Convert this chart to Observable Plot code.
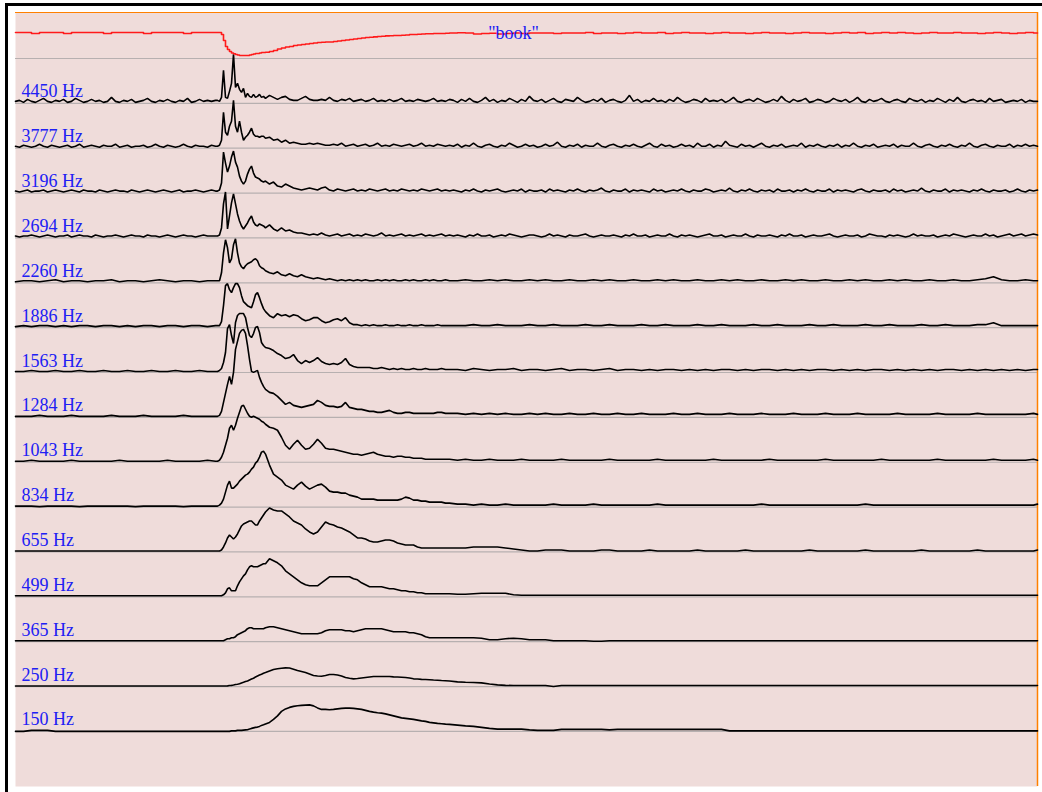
<!DOCTYPE html>
<html>
<head>
<meta charset="utf-8">
<title>"book" – auditory channel envelopes</title>
<script src="https://cdn.jsdelivr.net/npm/d3@7"></script>
<script src="https://cdn.jsdelivr.net/npm/@observablehq/plot@0.6"></script>
<style>
  html, body { margin: 0; padding: 0; background: #fff; }
  #chart { position: relative; width: 1042px; height: 792px; overflow: hidden; }
  #chart::before { content: ""; position: absolute; left: 5px; top: 3px; width: 2000px; height: 2000px;
    border-left: 3px solid #000; border-top: 3px solid #000; pointer-events: none; }
  #chart svg { display: block; }
</style>
</head>
<body>
<div id="chart"></div>
<script>
// Sample times (ms). Smooth bands: coarse before the onset, fine around it, coarse in the tail.
const timeMs = [
  ...d3.range(0, 201, 8),
  ...d3.range(202, 251, 2),
  ...d3.range(254, 435, 4),
  ...d3.range(442, 1019, 8),
  1022
];
// Noisy high bands are sampled more densely outside the onset.
const timeFineMs = [
  ...d3.range(0, 201, 4),
  ...d3.range(202, 251, 2),
  ...d3.range(254, 435, 4),
  ...d3.range(438, 1019, 4),
  1022
];

// Overall level of the word (red trace, top row)
const bookLevel = [
  26,26,25,26,26,26,25,26,26,26, 26,25,26,26,26,26,25,26,26,26, 26,25,26,26,26,26,
  26,26,24,18,12,9,7,5.5,4.7,4, 3.5,3,3,3,3,3,3.5,4,4.5,5, 5,5.5,6,6,6.3,
  7,8,9.5,10.5,11.5,12,13,13.5,14,14.5, 15,15.5,16,16.3,16.5,16.5,17,17.5,18,18.5,
  19,19.5,20,20.5,21,21.3,21.6,22,22.3,22.6, 22.8,23,23,23.2,23.5,24,24,24.3,24.5,24.7,
  24.7,25,25,25,25.3,25.5,
  25.7,25.5,24.5,25,25.3,24.5,25,25.5,25,25.5, 25.5,25.5,25,25.5,25.5,25.5,26,25,25.5,25.5,
  25,25.5,26,25.5,25.5,26,25,25.5,26,25.5, 25.5,25,25.5,26,25.5,25.5,25,25.5,26,25.5,
  25.5,25,25.5,26,25.5,25.5,25,25.5,26,25.5, 26,25,25.5,26,25.5,26,25.5,25,25.5,26,
  25.5,25.5,26,25.5,25.5,25,25.5,26,25.5,25, 25.5,26,25.5,25.5
];
const wordLabel = "\"book\"";

const channelLabels = ["4450 Hz", "3777 Hz", "3196 Hz", "2694 Hz", "2260 Hz", "1886 Hz", "1563 Hz",
  "1284 Hz", "1043 Hz", "834 Hz", "655 Hz", "499 Hz", "365 Hz", "250 Hz", "150 Hz"];

// Channel envelopes, one array per band (high bands on timeFineMs, the rest on timeMs)
const hz4450 = [
  2,3,1,4,2,1,3,5,2,1, 3,2,4,1,2,5,3,1,2,4, 2,3,1,2,6,2,1,3,2,4, 1,2,3,5,2,1,3,2,4,2, 1,3,2,5,1,2,4,2,3,2, 3,
  3,2,6,33,6,5,12,20,49,16, 20,14,11,15,6,10,7,6,9,6, 7,9,6,7,5,
  8,6,4,6,7,4,3,3,5,7, 4,3,3,4,3,6,3,2,4,3, 5,2,3,4,2,3,5,2,3,2, 4,2,3,5,2,3,2,4,3,2, 3,5,2,3,2,4,
  3,1,4,2,5,2,1,3,6,2, 4,1,3,2,5,3,1,4,2,7, 3,2,4,1,3,5,2,1,4,3, 2,6,3,1,2,4,2,5,1,3,
  4,2,1,3,8,2,4,1,3,2, 5,2,3,1,4,2,6,3,1,2, 4,3,1,5,2,3,2,4,1,3, 6,2,1,3,4,2,5,3,1,2,
  4,2,7,3,1,4,2,3,5,1, 2,4,3,1,2,5,3,2,4,1, 3,6,2,1,4,2,3,5,2,1, 3,4,2,1,5,3,2,4,1,3,
  2,5,3,1,4,2,6,2,1,3, 4,2,3,1,5,2,3,4,1,2, 3,2,4,1,3,2,2
];
const hz3777 = [
  2,1,3,2,1,2,4,2,1,3, 2,1,2,3,1,2,4,1,2,3, 2,1,3,2,2,4,1,2,3,1, 2,2,3,1,2,4,2,1,3,2, 1,2,4,2,1,3,2,2,1,3, 2,
  2,3,8,36,16,13,22,27,48,22, 16,27,16,8,11,13,16,20,14,12, 12,11,12,12,10,
  11,8,9,6,8,5,6,5,4,4, 5,4,5,4,3,3,4,3,5,2, 3,4,2,3,4,2,3,5,2,3, 2,4,3,2,3,4,2,3,5,2, 3,2,4,3,2,3,
  2,4,1,3,2,5,2,1,3,4, 2,1,3,2,5,3,1,2,4,2, 3,1,2,4,2,3,6,2,1,3, 2,4,1,3,2,2,5,2,1,3,
  4,2,1,3,2,4,2,1,3,5, 2,1,4,2,3,1,2,4,2,3, 1,5,2,2,4,1,3,2,7,3, 2,1,4,2,3,1,3,5,2,1,
  3,2,4,1,2,3,2,5,1,3, 2,4,2,1,3,2,4,1,3,2, 5,2,1,3,2,4,1,2,3,2, 4,1,3,2,2,5,2,1,3,4,
  2,1,3,2,4,2,1,3,2,5, 2,1,3,4,2,1,3,2,2,4, 1,3,2,4,2,3,2
];
const hz3196 = [
  2,1,2,3,1,2,2,3,1,2, 3,2,1,2,3,2,1,3,2,2, 1,3,2,1,2,3,2,2,1,3, 2,1,2,3,2,1,2,3,2,1, 2,3,1,2,2,3,2,1,2,3, 2,
  2,3,10,41,30,21,27,36,42,31, 26,17,12,9,12,19,24,27,20,16, 15,14,12,11,12,
  9,11,7,6,9,7,5,4,3,4, 5,4,3,5,6,3,2,4,3,2, 3,4,2,3,2,4,3,2,3,4, 2,3,2,4,3,2,3,2,4,3, 2,3,4,2,3,2,
  3,2,1,3,2,4,2,1,3,2, 3,4,2,1,2,3,2,4,1,3, 2,2,3,1,4,2,3,2,1,3, 2,4,2,1,3,2,3,5,2,1,
  3,2,2,4,1,3,2,3,2,1, 4,2,3,1,2,3,2,4,2,1, 3,2,2,4,3,1,2,3,2,5, 2,1,3,2,4,2,1,3,2,3,
  1,4,2,2,3,1,3,2,4,2, 1,3,2,2,4,1,3,2,3,2, 1,3,4,2,1,3,2,2,3,1, 4,2,3,1,2,3,2,5,2,1,
  3,2,2,4,1,3,2,3,2,1, 3,2,4,2,1,3,2,2,3,1, 2,4,2,1,3,2,3
];
const hz2694 = [
  2,1,2,2,3,2,1,2,3,2, 1,2,2,3,1,2,3,2,2,1, 3,2,1,2,2,3,2,1,2,3, 2,2,1,3,2,2,1,2,3,2, 1,2,3,2,2,1,2,3,2,2, 2,
  2,3,10,34,46,9,22,35,44,34, 24,17,12,9,12,15,19,22,16,13, 12,14,13,12,10,
  13,9,7,10,7,8,6,5,5,4, 3,4,3,5,3,2,3,4,2,3, 4,2,3,2,4,3,2,3,5,2, 3,2,3,4,2,3,2,3,4,2, 3,2,3,4,2,3,
  2,3,2,1,3,2,4,2,2,3, 1,2,3,2,4,3,2,1,2,3, 3,2,1,2,4,2,3,2,1,3, 2,2,3,4,2,1,2,3,2,2,
  3,2,1,3,2,4,2,2,3,1, 2,3,2,2,4,2,1,3,2,3, 2,1,2,3,4,2,2,3,1,2, 3,2,2,4,2,1,3,2,2,3,
  2,1,3,2,4,2,2,3,1,2, 3,2,2,3,4,2,1,2,3,2, 2,3,1,2,4,3,2,2,1,3, 2,3,2,1,2,4,2,3,2,2,
  3,1,2,3,2,4,3,2,1,2, 3,2,2,4,2,3,1,2,3,4, 2,3,4,2,3,4,3
];
const hz2260 = [
  1,2,2,1,2,3,1,2,2,1, 2,2,3,1,2,2,1,2,3,2, 1,2,2,1,2,2,
  2,2,10,30,43,35,20,24,38,44, 30,20,16,14,17,19,20,21,23,24, 22,17,15,14,12,
  10,9,11,8,7,9,7,6,8,6, 5,4,5,4,3,4,3,2,3,2, 3,2,3,2,3,2,2,3,2,3, 2,3,2,2,3,2,3,2,2,3, 2,3,2,2,3,2,
  2,3,2,2,3,2,3,2,2,3, 2,3,2,2,3,2,2,3,2,3, 2,2,3,2,2,3,2,3,2,2, 3,2,2,3,2,3,2,2,3,2,
  2,3,2,3,2,2,3,2,2,3, 2,3,2,2,3,2,3,2,2,3, 2,2,3,2,2,3,4,6,3,2, 2,3,2,2
];
const hz1886 = [
  1,2,1,2,2,1,2,1,2,2, 1,2,2,1,2,1,2,2,1,2, 2,1,2,2,1,2,
  2,2,6,22,42,44,38,35,40,44, 44,40,32,26,24,22,21,20,26,33, 35,30,24,19,16,
  12,10,14,12,13,11,13,12,9,7, 8,10,10,7,5,6,8,9,7,10, 5,3,3,2,3,2,3,2,2,3, 2,2,3,2,2,3,2,2,3,2, 2,2,3,2,2,2,
  2,2,3,2,2,3,2,2,2,3, 2,2,3,2,2,2,3,2,2,3, 2,2,2,3,2,2,3,2,2,2, 3,2,2,3,2,2,2,3,2,2,
  3,2,2,2,3,2,2,3,2,2, 2,3,2,2,3,2,2,2,3,2, 2,3,2,2,2,3,3,5,2,2, 2,2,2,2
];
const hz1563 = [
  1,1,2,1,1,2,1,1,2,1, 1,2,1,1,2,1,1,2,1,1, 2,1,1,2,1,1,
  1,2,4,10,20,44,48,37,29,50, 57,59,59,59,55,45,37,35,39,45, 46,40,30,27,25,
  24,22,19,17,14,15,18,12,9,12, 10,12,15,11,9,8,9,8,10,14, 8,6,5,5,5,5,4,4,5,4, 3,4,3,4,3,3,4,3,3,4, 3,3,3,4,3,3,
  3,2,4,3,2,3,3,4,2,3, 3,2,3,4,2,3,3,2,3,4, 2,3,3,2,3,2,3,3,2,3, 2,3,2,3,3,2,3,2,3,3,
  2,3,2,3,2,3,3,2,3,2, 3,2,3,3,2,3,2,3,2,3, 2,3,3,2,3,2,3,2,3,2, 3,2,3,3
];
const hz1284 = [
  1,1,1,2,1,1,1,2,1,1, 1,1,2,1,1,1,2,1,1,1, 1,2,1,1,1,1,
  1,2,6,15,24,33,41,33,45,68, 76,84,87,88,84,72,58,46,45,46, 47,40,35,31,28,
  25,24,21,17,13,15,12,11,10,11, 12,13,17,15,12,11,11,10,11,15, 10,9,8,8,7,6,6,5,5,6, 7,5,4,4,5,5,4,4,4,4, 4,4,5,5,4,4,
  4,3,4,3,4,3,4,3,3,4, 3,4,3,3,4,3,3,4,3,3, 4,3,3,4,3,3,3,4,3,3, 4,3,3,3,4,3,3,3,4,3,
  3,3,4,3,3,3,4,3,3,3, 4,3,3,3,3,4,3,3,3,3, 4,3,3,3,3,4,3,3,3,3, 3,3,4,3
];
const hz1043 = [
  1,1,2,1,1,1,1,2,1,1, 1,1,1,2,1,1,1,1,1,2, 1,1,1,1,2,1,
  1,2,5,10,17,24,34,37,32,37, 44,50,56,57,53,49,46,45,46,45, 44,43,41,40,38,
  35,34,32,25,17,13,18,22,17,13, 14,18,23,19,14,13,13,12,11,10, 9,8,8,7,8,9,10,8,7,6, 6,5,6,6,5,5,4,4,4,3, 3,3,3,3,3,3,
  2,3,2,2,3,2,2,2,3,2, 2,2,2,3,2,2,2,2,2,3, 2,2,2,2,2,3,2,2,2,2, 2,2,3,2,2,2,2,2,2,3,
  2,2,2,2,2,2,3,2,2,2, 2,2,2,3,2,2,2,2,2,2, 3,2,2,2,2,2,2,3,2,2, 2,2,3,2
];
const hz834 = [
  1,1,1,0.5,1,1,1,1,0.5,1, 1,1,1,1,1,0.5,1,1,1,1, 1,0.5,1,1,1,1,
  1,2,4,8,15,22,26,19,19,21, 23,26,28,30,32,33,35,38,40,44, 46,50,55,56,53,
  42,33,30,27,22,20,18,22,25,21, 18,20,22,23,20,16,15,15,14,14, 12,11,10,8,8,8,8,7,7,7, 7,7,7,8,10,9,7,7,6,6, 5,5,5,5,4,4,
  3,3,2,3,2,2,3,2,2,2, 2,2,3,2,2,2,2,3,2,2, 2,2,2,2,2,3,2,2,2,2, 2,2,2,2,2,2,2,2,3,2,
  2,2,2,2,2,2,2,2,2,2, 2,3,2,2,2,2,2,2,2,2, 2,2,2,2,2,2,2,2,2,2, 2,2,2,3
];
const hz655 = [
  1,1,1,1,1,1,1,1,1,1, 1,1,1,1,1,1,1,1,1,1, 1,1,1,1,1,1,
  1,1,2,5,9,14,17,15,13,15, 18,22,26,28,29,30,31,31,29,27, 27,31,34,37,40,
  44,42,41,41,38,35,31,29,27,23, 20,18,20,25,30,28,27,25,24,22, 20,17,14,14,13,11,10,10,11,12, 12,11,9,8,7,7,7,5,4,4, 4,4,4,4,4,4,
  4,4,5,5,5,5,4,3,2,1, 1,2,2,2,1,1,1,1,2,2, 1,1,1,1,2,1,1,1,1,1, 2,1,1,1,1,1,2,1,1,1,
  1,1,1,1,2,1,1,1,1,1, 1,2,1,1,1,1,1,1,2,1, 1,1,1,1,1,2,1,1,1,1, 1,1,1,2
];
const hz499 = [
  1,1,1,1,1,1,1,1,1,1, 1,1,1,1,1,1,1,1,1,1, 1,1,1,1,1,1,
  1,1,1,2,4,8,9,6,6,6, 11,15,18,21,23,27,30,31,30,30, 30,31,32,33,33,
  38,36,34,31,26,23,20,17,14,12, 11,11,11,14,17,20,20,20,20,20, 20,18,17,14,12,10,10,10,10,9, 8,8,7,6,6,5,5,4,4,3, 3,3,3,3,3,3,
  2.5,2.5,3,3.5,3.5,3.5,3.5,2,1.5,1.5, 1.5,1.5,1.5,1.5,1.5,1.5,1.5,1.5,1.5,1.5, 1.5,1.5,1.5,1.5,1.5,1.5,1.5,1.5,1.5,1.5,
  1.5,1.5,1.5,1.5,1.5,1.5,1.5,1.5,1.5,1.5, 1.5,1.5,1.5,1.5,1.5,1.5,1.5,1.5,1.5,1.5, 1.5,1.5,1.5,1.5,1.5,1.5,1.5,1.5,1.5,1.5,
  1.5,1.5,1.5,1.5,1.5,1.5,1.5,1.5,1.5,1.5, 1.5,1.5,1.5,1.5
];
const hz365 = [
  1,1,1,1,1,1,1,1,1,1, 1,1,1,1,1,1,1,1,1,1, 1,1,1,1,1,1,
  1,1,1,1,2,3,3,4,4,5, 7,8,9,10,11,13,14,14,13,13, 13,13,13,13,14,
  15,15,14,13,12,11,10,9,8,8, 8,8,8,9,11,12,12,12,12,11, 11,10,11,12,13,13,13,13,13,12, 11,10,10,10,10,9,9,8,7,5, 4,4,4,4,4,4,
  4,4,4,3.5,2,2,3,3.5,3,2, 2,2,1,1,1,1,1,0.5,0.5,1, 1,1,1,1,1,1,1,1,1,1, 1,1,1,1,1,1,1,1,1,1,
  1,1,1,1,1,1,1,1,1,1, 1,1,1,1,1,1,1,1,1,1, 1,1,1,1,1,1,1,1,1,1, 1,1,1,1
];
const hz250 = [
  0.5,0.5,0.5,0.5,0.5,0.5,0.5,0.5,0.5,0.5, 0.5,0.5,0.5,0.5,0.5,0.5,0.5,0.5,0.5,0.5, 0.5,0.5,0.5,0.5,0.5,0.5,
  0.5,0.5,0.5,0.5,0.5,0.7,1,1.2,1.5,2, 2.3,2.7,3.5,4.2,5,5.5,6.5,7.5,8.3,9.5, 10.5,11.5,12.3,13.3,14,
  15.5,17,17.8,18.3,18.7,18.5,17.3,16,15,14, 12.5,11,10.5,10.3,11,12,12,11.5,10.5,9, 8.3,7.7,8,8.5,9,9.5,10,10,10,10,
  10,9.7,9.5,9.3,9,8.5,7.7,7.5,7.2,7, 6.8,6.5,6.3,6,5.8,5.5,
  4.7,4.3,4,3.7,2.5,1.7,1.2,1,1,1, 1,1,0,1,1,1,1,1,1,1, 1,1,1,1,1,1,1,1,1,1, 1,1,1,1,1,1,1,1,1,1,
  1,1,1,1,1,1,1,1,1,1, 1,1,1,1,1,1,1,1,1,1, 1,1,1,1,1,1,1,1,1,1, 1,1,1,1
];
const hz150 = [
  0,0,1,1,1,0,0,0,0,0, 0,0,0,0,0,0,0,0,0,0, 0,0,0,0,0,0,
  0,0,0,0,0,0,0,0.5,0.5,0.5, 1,1,1,1.3,1.5,1.7,2.3,3,3.5,4, 4.3,5,6,6.7,7.5,
  9,12,15.5,20,22.5,24,25,25.7,26,26.3, 26.5,25.5,23.5,22,22,21.7,22,22.5,23,23.3, 23.3,23,22.5,22,21,20,19.3,18.7,18.3,17.5,
  16.5,15.5,14.5,13.5,13,12.5,12,11.3,10.5,10, 9,8.5,8,7.7,7.3,7,
  6.3,5.5,5,4,3,2.3,2.3,2.3,2.3,1.5, 1,1,1,2,2,2,2,2,2,1.5, 2,2,2,2,2,2,2,2,2,2, 2,2,2,2,0.5,0.5,0.5,0.5,0.5,0.5,
  0.5,0.5,0.5,0.5,0.5,0.5,0.5,0.5,0.5,0.5, 0.5,0.5,0.5,0.5,0.5,0.5,0.5,0.5,0.5,0.5, 0.5,0.5,0.5,0.5,0.5,0.5,0.5,0.5,0.5,0.5,
  0.5,0.5,0.5,0.5
];

const channelValues = [hz4450, hz3777, hz3196, hz2694, hz2260, hz1886, hz1563, hz1284,
  hz1043, hz834, hz655, hz499, hz365, hz250, hz150];
const channelTimes = channelValues.map((_, i) => i < 4 ? timeFineMs : timeMs);

// Layout: row 0 is the word level, rows 1..15 the bands; each row sits rowStep units below the previous
const rowStep = 44.86;
const rowBase = r => -r * rowStep;
const yTop = 46, yBottom = -728;
const labelTime = 6, labelLift = 6;
const wordTime = 498, wordLift = 19.7;

if (bookLevel.length !== timeMs.length) throw new Error(`level has ${bookLevel.length} values`);
channelValues.forEach((vals, i) => {
  if (vals.length !== channelTimes[i].length)
    throw new Error(`${channelLabels[i]} has ${vals.length} values, expected ${channelTimes[i].length}`);
});

const traces = channelValues.flatMap((vals, i) =>
  vals.map((v, j) => ({row: i + 1, t: channelTimes[i][j], y: rowBase(i + 1) + v})));
const level = bookLevel.map((v, j) => ({t: timeMs[j], y: rowBase(0) + v}));

const serif = "'Liberation Serif', 'Times New Roman', serif";

const chart = Plot.plot({
  width: 1042,
  height: 792,
  marginLeft: 15,
  marginRight: 5,
  marginTop: 12,
  marginBottom: 6,
  x: {domain: [0, 1022], axis: null},
  y: {domain: [yBottom, yTop], axis: null},
  style: {background: "transparent"},
  marks: [
    Plot.frame({fill: "#efdcda", stroke: "none"}),
    Plot.ruleY(d3.range(0, channelValues.length + 1), {y: r => rowBase(r), stroke: "#b7b0b0", strokeWidth: 1.2}),
    Plot.ruleY([yTop], {stroke: "#ff8000", strokeWidth: 1.2}),
    Plot.ruleX([1022], {stroke: "#ff8000", strokeWidth: 1.5}),
    Plot.text(channelLabels, {
      x: () => labelTime, y: (d, i) => rowBase(i + 1) + labelLift, text: d => d,
      textAnchor: "start", lineAnchor: "bottom", fill: "#2020f4",
      fontFamily: serif, fontSize: 18
    }),
    Plot.line(traces, {x: "t", y: "y", z: "row", stroke: "#000", strokeWidth: 1.6, strokeLinejoin: "miter"}),
    Plot.line(level, {x: "t", y: "y", stroke: "#ff1a1a", strokeWidth: 1.6, curve: "step-after"}),
    Plot.text([wordLabel], {
      x: () => wordTime, y: () => rowBase(0) + wordLift, text: d => d,
      textAnchor: "middle", lineAnchor: "bottom", fill: "#2020f4",
      fontFamily: serif, fontSize: 18
    })
  ]
});

document.getElementById("chart").append(chart);
</script>
</body>
</html>
